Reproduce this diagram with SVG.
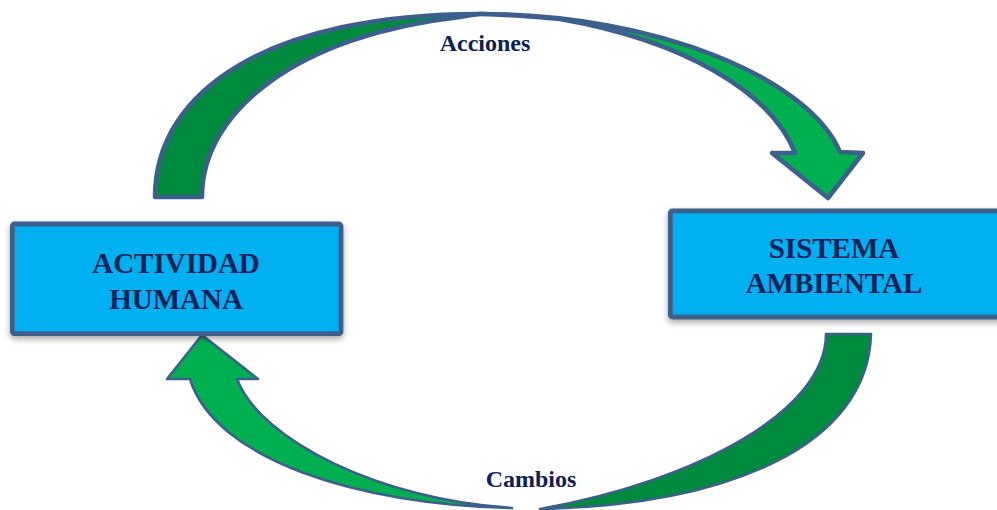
<svg xmlns="http://www.w3.org/2000/svg" width="997" height="510" viewBox="0 0 997 510">
  <defs>
    <filter id="shadow" x="-10%" y="-20%" width="120%" height="150%">
      <feDropShadow dx="0" dy="3" stdDeviation="3" flood-color="#000000" flood-opacity="0.35"/>
    </filter>
  </defs>
  <style>
    .box { fill: #00B0F0; stroke: #3C5F8C; stroke-width: 4.8; }
    .lbl { font-family: "Liberation Serif", "Times New Roman", serif; font-weight: bold; fill: #0B2158; text-anchor: middle; }
    .box-lbl { font-size: 29px; }
    .arc-lbl { font-size: 24px; }
    .dark { fill: #008A3E; stroke: #3C5F8C; stroke-linejoin: round; }
    .light { fill: #00B050; stroke: #3C5F8C; stroke-linejoin: round; }
    .top { stroke-width: 4.5; }
    .bot { stroke-width: 2.6; }
  </style>
  <rect width="997" height="510" fill="#FFFFFF"/>

  <g id="connectors">
    <g id="acciones-arrow">
      <path class="dark top" d="M155,197 C155,90 270,14 480,14 Q470,15 460,17 C300,35 202,110 202,197 Z"/>
      <path class="light top" d="M480,14 C660,14 810,80 840,152 L863,153 L828,198 L772,153 L795,153 C770,90 680,40 560,19 Q520,15 480,14 Z"/>
      <text class="lbl arc-lbl" x="485" y="51">Acciones</text>
    </g>
    <g id="cambios-arrow">
      <path class="dark bot" d="M826,334 L871,334 C868,445 730,505 540,509 C700,480 826,410 826,334 Z"/>
      <path class="light bot" d="M202,335 L258,379 L237,379 C260,440 380,500 512,508 C360,505 215,460 190,379 L167,379 Z"/>
      <text class="lbl arc-lbl" x="531" y="487">Cambios</text>
    </g>
  </g>

  <g id="actividad-humana">
    <rect class="box" x="12.4" y="224" width="328.6" height="109.6" rx="2" filter="url(#shadow)"/>
    <text class="lbl box-lbl" x="176" y="273">ACTIVIDAD</text>
    <text class="lbl box-lbl" x="176" y="309">HUMANA</text>
  </g>

  <g id="sistema-ambiental">
    <rect class="box" x="670.4" y="210.8" width="340" height="106.2" rx="2" filter="url(#shadow)"/>
    <text class="lbl box-lbl" x="834" y="258">SISTEMA</text>
    <text class="lbl box-lbl" x="834" y="293">AMBIENTAL</text>
  </g>
</svg>
